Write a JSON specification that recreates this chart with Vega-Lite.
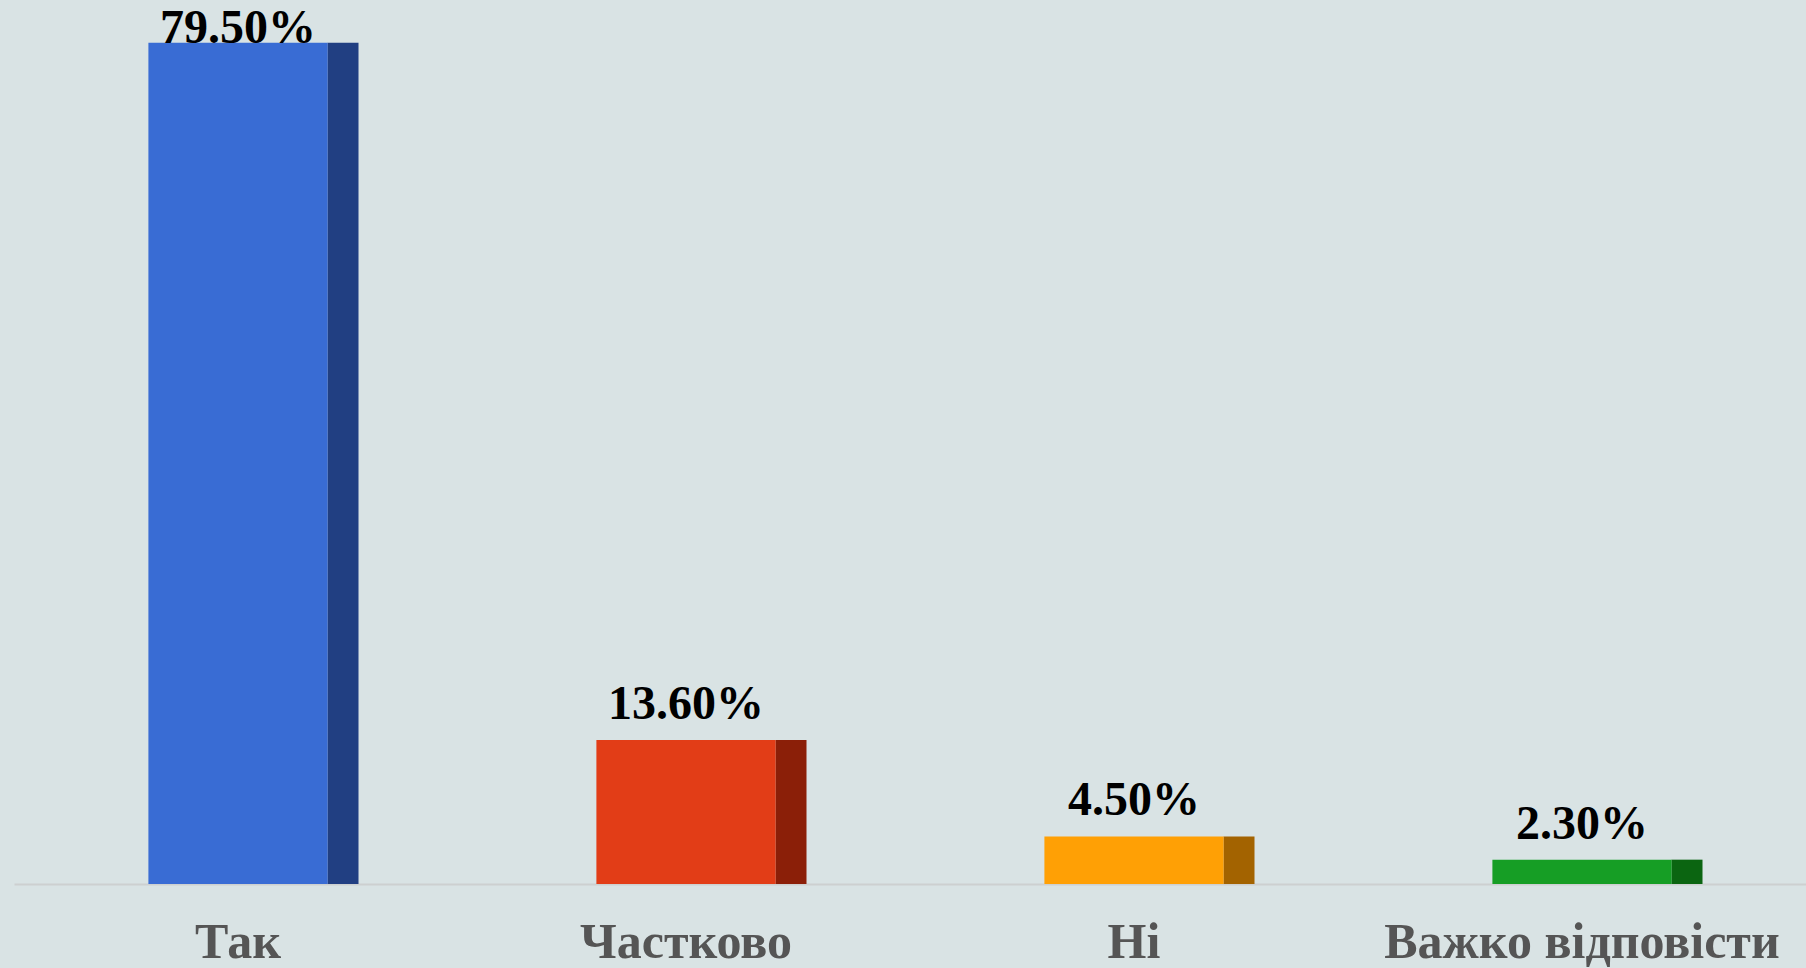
{
  "$schema": "https://vega.github.io/schema/vega-lite/v6.json",
  "width": 1792,
  "height": 884,
  "autosize": {"type": "none"},
  "padding": {"left": 14, "top": 0, "right": 0, "bottom": 84},
  "background": "#d9e3e4",
  "config": {"view": {"stroke": null}},
  "data": {
    "values": [
      {"answer": "Так", "value": 79.5, "label": "79.50%"},
      {"answer": "Частково", "value": 13.6, "label": "13.60%"},
      {"answer": "Ні", "value": 4.5, "label": "4.50%"},
      {"answer": "Важко відповісти", "value": 2.3, "label": "2.30%"}
    ]
  },
  "encoding": {
    "x": {
      "field": "answer",
      "type": "nominal",
      "sort": null,
      "scale": {"paddingInner": 0.6, "paddingOuter": 0.3},
      "axis": {
        "title": null,
        "labelAngle": 0,
        "labelLimit": 0,
        "ticks": false,
        "tickSize": 0,
        "labelPadding": 33,
        "labelFont": "Liberation Serif",
        "labelFontSize": 50,
        "labelFontWeight": "bold",
        "labelColor": "#555555",
        "domainColor": "#cdd0d0",
        "domainWidth": 2,
        "grid": false
      }
    },
    "y": {
      "field": "value",
      "type": "quantitative",
      "scale": {"domain": [0, 83.55], "nice": false, "zero": true},
      "axis": null
    }
  },
  "layer": [
    {
      "mark": {"type": "bar", "width": 31, "xOffset": 105},
      "encoding": {
        "color": {
          "field": "answer",
          "type": "nominal",
          "sort": null,
          "scale": {
            "domain": ["Так", "Частково", "Ні", "Важко відповісти"],
            "range": ["#213f82", "#8b1f08", "#a36300", "#0b6511"]
          },
          "legend": null
        }
      }
    },
    {
      "mark": {"type": "bar"},
      "encoding": {
        "fill": {
          "field": "answer",
          "type": "nominal",
          "sort": null,
          "scale": {
            "domain": ["Так", "Частково", "Ні", "Важко відповісти"],
            "range": ["#396cd4", "#e23d17", "#ffa005", "#169e25"]
          },
          "legend": null
        }
      }
    },
    {
      "transform": [{"filter": "datum.value <= 50"}],
      "mark": {
        "type": "text",
        "font": "Liberation Serif",
        "fontSize": 48,
        "fontWeight": "bold",
        "color": "#000000",
        "baseline": "alphabetic",
        "align": "center",
        "dy": -21
      },
      "encoding": {"text": {"field": "label"}}
    },
    {
      "transform": [{"filter": "datum.value > 50"}],
      "mark": {
        "type": "text",
        "font": "Liberation Serif",
        "fontSize": 48,
        "fontWeight": "bold",
        "color": "#000000",
        "baseline": "alphabetic",
        "align": "center",
        "dy": 0
      },
      "encoding": {"text": {"field": "label"}}
    }
  ]
}
